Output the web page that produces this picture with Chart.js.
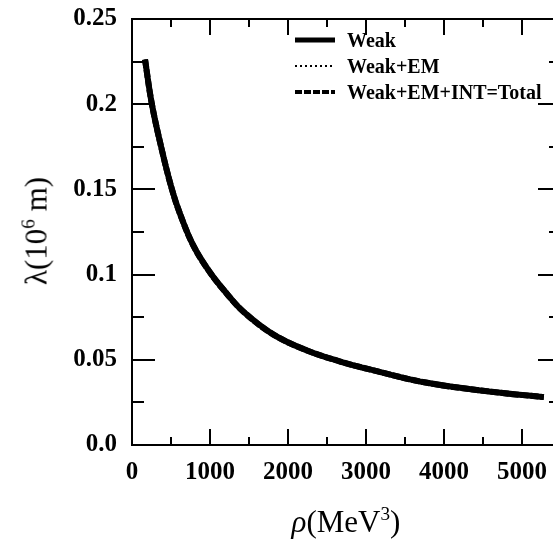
<!DOCTYPE html>
<html><head><meta charset="utf-8">
<script src="https://cdn.jsdelivr.net/npm/chart.js@4/dist/chart.umd.min.js"></script>
<style>
html,body{margin:0;padding:0;background:#fff;overflow:hidden;width:553px;height:542px}
#wrap{position:absolute;left:0;top:0;width:566px;height:542px}
.lbl{position:absolute;font-family:"Liberation Serif",serif;color:#000;white-space:nowrap;line-height:1}
#ytitle{left:36px;top:231px;transform:translate(-50%,-50%) rotate(-90deg);font-size:31px}
#xtitle{left:346px;top:521px;transform:translate(-50%,-50%);font-size:31px}
sup{font-size:0.62em;vertical-align:0.62em;line-height:0}
#legend{position:absolute;left:295px;top:27px}
.row{display:flex;align-items:center;height:26px}
.row svg{width:40px;height:10px;margin-right:12px;flex:none}
.row span{font:bold 20px "Liberation Serif",serif;color:#000}
</style></head>
<body>
<div id="wrap"><canvas id="c" width="566" height="542"></canvas></div>
<div id="ytitle" class="lbl">λ(10<sup>6</sup> m)</div>
<div id="xtitle" class="lbl"><i>ρ</i>(MeV<sup>3</sup>)</div>
<div id="legend"></div>
<script>
// ---- data ----
const rho       = [167, 253, 381, 509, 616, 787, 1001, 1216, 1429, 1814, 2243, 2670, 3098, 3783, 4638, 5280];
const lamWeak   = [0.2262, 0.2005, 0.1735, 0.1505, 0.1356, 0.1170, 0.1012, 0.0888, 0.0782, 0.0648, 0.0555, 0.0490, 0.0438, 0.0365, 0.0311, 0.0281];
const lamWeakEM = [0.2262, 0.2005, 0.1735, 0.1505, 0.1356, 0.1170, 0.1012, 0.0888, 0.0782, 0.0648, 0.0555, 0.0490, 0.0438, 0.0365, 0.0311, 0.0281];
const lamTotal  = [0.2262, 0.2005, 0.1735, 0.1505, 0.1356, 0.1170, 0.1012, 0.0888, 0.0782, 0.0648, 0.0555, 0.0490, 0.0438, 0.0365, 0.0311, 0.0281];
const seriesNames = ['Weak', 'Weak+EM', 'Weak+EM+INT=Total'];
const xTickValues = [0, 1000, 2000, 3000, 4000, 5000];
const xTickLabels = ['0', '1000', '2000', '3000', '4000', '5000'];
const yTickValues = [0, 0.05, 0.1, 0.15, 0.2, 0.25];
const yTickLabels = ['0.0', '0.05', '0.1', '0.15', '0.2', '0.25'];
const xTickMarks = [500, 1000, 1500, 2000, 2500, 3000, 3500, 4000, 4500, 5000, 5500];
const yTickMarks = [0.025, 0.05, 0.075, 0.1, 0.125, 0.15, 0.175, 0.2, 0.225];

const pts = arr => rho.map((r, i) => ({x: r, y: arr[i]}));
const styles = [
  {borderWidth: 6, borderDash: [], svg: 'stroke-width="5"'},
  {borderWidth: 2, borderDash: [2, 3], svg: 'stroke-width="2" stroke-dasharray="2,3"'},
  {borderWidth: 6, borderDash: [8, 2], svg: 'stroke-width="4" stroke-dasharray="7,2"'}
];
const values = [lamWeak, lamWeakEM, lamTotal];

document.getElementById('legend').innerHTML = seriesNames.map((n, i) =>
  `<div class="row"><svg viewBox="0 0 40 10"><line x1="0" y1="5" x2="40" y2="5" stroke="#000" ${styles[i].svg}/></svg><span>${n}</span></div>`
).join('');

const tickFont = {family: '"Liberation Serif", serif', size: 25, weight: 'bold'};

const frame = {
  id: 'frame',
  afterDraw(chart) {
    const {ctx, chartArea: a, scales: {x, y}} = chart;
    ctx.save();
    ctx.strokeStyle = '#000';
    ctx.lineWidth = 2;
    ctx.beginPath();
    ctx.moveTo(a.left, a.top); ctx.lineTo(a.right, a.top); ctx.lineTo(a.right, a.bottom);
    ctx.stroke();
    ctx.beginPath();
    xTickMarks.forEach(v => {
      const px = Math.round(x.getPixelForValue(v));
      const len = v % 1000 === 0 ? 16 : 8;
      ctx.moveTo(px, a.bottom); ctx.lineTo(px, a.bottom - len);
      ctx.moveTo(px, a.top); ctx.lineTo(px, a.top + len);
    });
    yTickMarks.forEach(v => {
      const py = Math.round(y.getPixelForValue(v));
      const major = Math.abs(v / 0.05 - Math.round(v / 0.05)) < 1e-6;
      const len = major ? 23 : 12;
      ctx.moveTo(a.left, py); ctx.lineTo(a.left + len, py);
      ctx.moveTo(a.right, py); ctx.lineTo(a.right - len, py);
    });
    ctx.stroke();
    ctx.restore();
  }
};

new Chart(document.getElementById('c'), {
  type: 'line',
  data: {
    datasets: seriesNames.map((n, i) => ({
      label: n,
      data: pts(values[i]),
      borderColor: '#000',
      borderWidth: styles[i].borderWidth,
      borderDash: styles[i].borderDash,
      pointRadius: 0,
      fill: false,
      tension: 0.4
    }))
  },
  options: {
    responsive: false,
    animation: false,
    layout: {padding: {top: 19, right: 5, left: 0, bottom: 0}},
    plugins: {legend: {display: false}, tooltip: {enabled: false}},
    scales: {
      x: {
        type: 'linear', min: 0, max: 5500,
        afterBuildTicks: s => { s.ticks = xTickValues.map(v => ({value: v})); },
        afterFit: s => { s.height = 97; s.paddingLeft = 0; s.paddingRight = 0; },
        grid: {display: false, drawTicks: false},
        border: {display: true, color: '#000', width: 2},
        ticks: {font: tickFont, color: '#000', padding: 13, maxRotation: 0, autoSkip: false,
                callback: (v, i) => xTickLabels[i]}
      },
      y: {
        type: 'linear', min: 0, max: 0.25,
        afterBuildTicks: s => { s.ticks = yTickValues.map(v => ({value: v})); },
        afterFit: s => { s.width = 132; s.paddingTop = 0; s.paddingBottom = 0; },
        grid: {display: false, drawTicks: false},
        border: {display: true, color: '#000', width: 2},
        ticks: {font: tickFont, color: '#000', padding: 15, autoSkip: false,
                callback: (v, i) => yTickLabels[i]}
      }
    }
  },
  plugins: [frame]
});
</script>
</body></html>
